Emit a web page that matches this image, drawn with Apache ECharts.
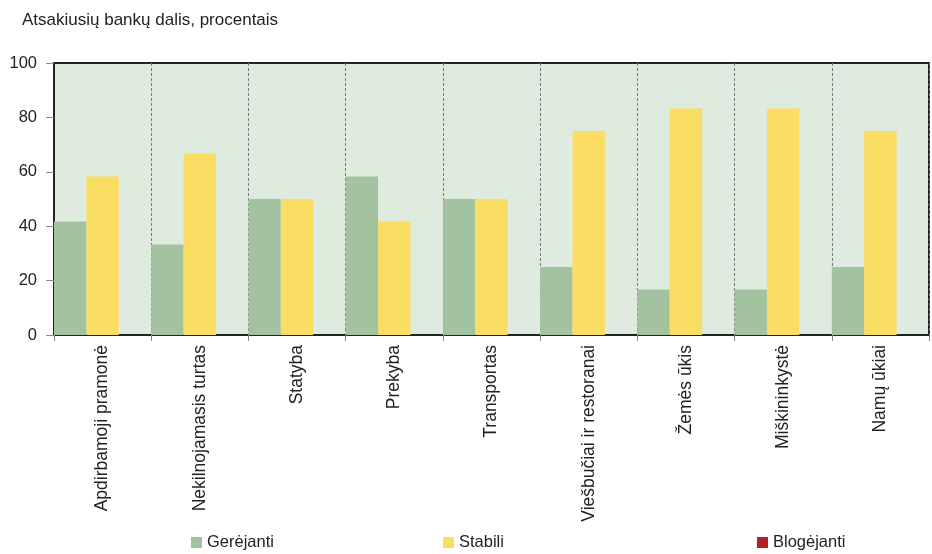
<!DOCTYPE html>
<html><head><meta charset="utf-8">
<script src="https://cdn.jsdelivr.net/npm/echarts@6/dist/echarts.min.js"></script>
<style>html,body{margin:0;padding:0;background:#fff}#c{width:932px;height:554px}</style>
</head><body><div id="c"></div>
<script>
const categories = ["Apdirbamoji pramonė","Nekilnojamasis turtas","Statyba","Prekyba","Transportas","Viešbučiai ir restoranai","Žemės ūkis","Miškininkystė","Namų ūkiai"];
const gerejanti = [41.7,33.3,50,58.3,50,25,16.7,16.7,25];
const stabili = [58.3,66.7,50,41.7,50,75,83.3,83.3,75];
const blogejanti = [0,0,0,0,0,0,0,0,0];
const yTicks = [0,20,40,60,80,100];
const seriesNames = ["Gerėjanti","Stabili","Blogėjanti"];
const colors = ["#a3c3a0","#fade64","#b22222"];
const font = "Liberation Sans";

const chart = echarts.init(document.getElementById('c'));
const legendPos = [186, 438, 752];
chart.setOption({
  animation:false,
  textStyle:{fontFamily:font},
  title:{text:"Atsakiusių bankų dalis, procentais",left:17,top:7,textStyle:{fontFamily:font,fontSize:17,fontWeight:'normal',color:'#222'}},
  legend: seriesNames.map((n,i)=>({data:[n],left:legendPos[i],top:529,itemWidth:11,itemHeight:11,itemGap:4,icon:'rect',textStyle:{fontFamily:font,fontSize:16.5,color:'#222'}})),
  grid:{left:54,right:3,top:63,bottom:219,show:true,backgroundColor:'#e0ebe0',borderColor:'#222',borderWidth:2},
  xAxis:{type:'category',data:categories,boundaryGap:true,
    axisLine:{lineStyle:{color:'#222',width:2}},
    axisTick:{show:true,interval:0,length:6,lineStyle:{color:'#888'}},
    splitLine:{show:true,interval:0,lineStyle:{color:'#777',type:[3,2],width:1}},
    axisLabel:{rotate:90,interval:0,fontSize:17.5,color:'#222',fontFamily:font,margin:10}},
  yAxis:{type:'value',min:0,max:100,interval:20,
    axisLine:{show:true,lineStyle:{color:'#222',width:2}},
    axisTick:{show:true,length:8,lineStyle:{color:'#888'}},
    splitLine:{show:false},
    axisLabel:{fontSize:16.5,color:'#222',fontFamily:font,margin:17,formatter:v=>yTicks.includes(v)?String(v):''}},
  series:[gerejanti,stabili,blogejanti].map((d,i)=>({name:seriesNames[i],type:'bar',data:d,barGap:'0%',barCategoryGap:'0%',itemStyle:{color:colors[i]}}))
});
</script></body></html>
